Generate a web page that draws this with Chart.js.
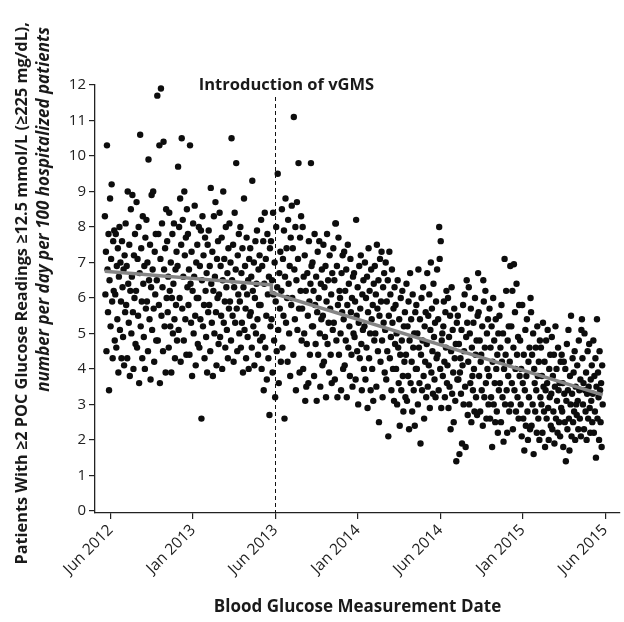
<!DOCTYPE html>
<html>
<head>
<meta charset="utf-8">
<script src="https://cdn.jsdelivr.net/npm/chart.js@4.4.1/dist/chart.umd.min.js"></script>
<style>
  html, body { margin: 0; padding: 0; background: #fff; }
  #wrap { width: 624px; height: 622px; }
</style>
</head>
<body>
<div id="wrap"><canvas id="glucoseChart" width="624" height="622"></canvas></div>
<script>
// x ticks, one every half year (equally spaced in the original figure)
const tickLabels = ['Jun 2012', 'Jan 2013', 'Jun 2013', 'Jan 2014', 'Jun 2014', 'Jan 2015', 'Jun 2015'];

// daily rates per 100 hospitalized patients, one array per half year
const ratesJun12 = [
  8.3,6.1,7.3,4.5,10.3,6.8,5.6,7.8,3.4,6.5,8.8,5.2,7.1,9.2,5.9,4.3,7.6,6.2,7.9,4.8,
  6.1,7.8,4.6,6.9,5.4,7.4,3.9,6.6,8.0,5.1,7.0,5.9,4.3,7.6,6.3,4.9,6.8,4.1,7.2,5.6,
  8.1,5.8,6.9,4.3,9.0,6.4,5.3,7.5,3.8,6.2,8.5,5.0,6.6,8.9,5.6,4.0,7.2,6.0,7.8,4.7,
  6.2,8.7,4.6,7.1,5.5,8.0,3.6,6.7,10.6,5.2,7.4,5.9,4.3,8.3,6.4,4.9,6.9,4.0,7.7,5.7,
  8.2,5.9,7.0,4.5,9.9,6.5,5.4,7.5,3.7,6.3,8.9,5.1,6.8,9.0,5.7,4.2,7.3,6.1,7.8,4.8,
  6.5,11.7,4.8,7.8,5.8,10.3,3.6,7.1,11.9,5.5,8.1,6.3,4.5,10.4,6.8,5.2,7.4,3.9,8.5,6.0,
  7.6,5.6,6.6,4.6,8.4,6.2,5.2,7.0,3.9,6.0,7.8,5.0,6.4,8.1,5.4,4.3,6.8,5.8,7.3,4.8,
  6.9,9.7,5.1,8.0,6.0,8.8,4.2,7.5,10.5,5.7,8.2,6.6,4.8,9.0,7.2,5.4,7.7,4.4,8.5,6.3
];
const ratesJan13 = [
  7.8,5.8,6.8,4.4,10.3,6.4,5.3,7.3,3.8,6.2,8.1,5.0,6.6,8.6,5.5,4.1,7.0,6.0,7.5,4.7,
  6.0,8.0,4.6,6.9,5.4,7.9,2.6,6.5,8.3,5.2,7.2,5.8,4.3,7.7,6.2,4.9,6.7,3.9,7.5,5.6,
  7.9,5.8,6.9,4.5,9.1,6.4,5.3,7.3,3.8,6.2,8.3,5.0,6.6,8.7,5.6,4.1,7.1,6.0,7.6,4.7,
  6.1,8.4,4.9,6.9,5.5,7.7,4.0,6.5,9.0,5.3,7.1,5.9,4.6,8.0,6.3,5.1,6.7,4.3,7.4,5.7,
  8.1,5.9,7.0,4.8,10.5,6.5,5.5,7.5,4.2,6.3,8.4,5.3,6.8,9.8,5.7,4.5,7.2,6.1,7.8,5.0,
  5.9,8.0,4.6,6.7,5.3,7.4,3.9,6.3,8.8,5.1,6.9,5.7,4.3,7.7,6.1,4.9,6.5,4.0,7.1,5.5,
  7.4,5.6,6.6,4.6,9.3,6.2,5.2,7.0,4.1,6.0,7.6,5.0,6.4,7.9,5.4,4.4,6.8,5.8,7.2,4.8,
  5.8,8.2,4.0,6.9,4.9,7.6,3.4,6.4,8.4,4.6,7.1,5.5,3.7,7.8,6.1,4.3,6.6,2.7,7.4,5.2
];
const ratesJun13 = [
  7.6,5.4,6.5,3.9,8.4,6.1,4.8,7.0,3.2,5.9,8.0,4.5,6.3,9.5,5.1,3.6,6.7,5.7,7.3,4.2,
  6.2,8.5,4.6,7.1,5.5,7.9,2.6,6.6,8.8,5.3,7.4,6.0,4.2,8.2,6.4,5.0,6.9,3.8,7.7,5.8,
  8.6,6.0,7.4,4.4,11.1,6.8,5.4,8.0,3.4,6.5,8.7,5.1,7.1,9.8,5.7,3.9,7.7,6.2,8.3,4.8,
  5.7,8.0,4.0,6.6,5.0,7.2,3.1,6.2,3.5,4.7,6.7,5.5,3.6,7.6,5.9,4.4,6.4,9.8,6.9,5.2,
  7.0,5.2,6.2,3.8,7.8,5.8,4.7,6.6,3.1,5.6,7.3,4.4,6.0,7.6,5.0,3.5,6.4,5.4,6.8,4.1,
  5.5,7.5,4.2,6.3,4.9,6.9,3.2,5.9,7.8,4.7,6.5,5.3,3.9,7.2,5.7,4.4,6.1,3.6,6.7,5.1,
  7.4,5.3,6.5,3.7,8.1,8.1,4.8,6.9,3.2,5.8,7.7,4.4,6.2,6.0,5.0,3.4,6.7,5.6,7.2,4.0,
  5.4,7.3,4.1,6.2,4.8,6.8,3.2,5.8,7.5,4.6,6.4,5.2,3.8,7.1,5.6,4.4,6.0,3.5,6.6,5.0
];
const ratesJan14 = [
  6.7,4.9,5.9,3.7,8.2,5.5,4.5,6.3,3.0,5.3,6.9,4.3,5.7,7.2,4.7,3.4,6.1,5.1,6.5,4.0,
  5.2,7.0,3.7,6.0,4.6,6.6,2.9,5.6,7.4,4.3,6.2,5.0,3.4,6.8,5.4,4.0,5.8,3.1,6.4,4.8,
  6.9,5.0,6.1,3.5,7.5,5.7,4.5,6.5,2.5,5.5,7.1,4.2,5.9,7.3,4.8,3.2,6.3,5.3,6.7,3.9,
  5.1,7.0,3.7,5.9,4.5,6.5,2.1,5.5,7.3,4.3,6.1,4.9,3.4,6.8,5.3,4.0,5.7,3.1,6.3,4.7,
  5.8,4.0,5.0,3.0,6.5,4.6,3.6,5.4,2.4,4.4,6.0,3.4,4.8,6.2,3.8,2.8,5.2,4.2,5.6,3.2,
  4.4,6.4,3.1,5.2,3.8,5.9,2.3,4.8,6.7,3.6,5.4,4.2,2.8,6.1,4.6,3.4,5.0,2.4,5.6,4.0,
  5.8,4.0,5.0,3.0,6.8,4.6,3.6,5.4,1.9,4.4,6.0,3.4,4.8,6.3,3.8,2.6,5.2,4.2,5.6,3.2,
  4.7,6.7,3.5,5.5,4.1,6.1,2.9,5.1,7.0,3.9,5.7,4.5,3.3,6.4,4.9,3.7,5.3,3.2,5.9,4.3
];
const ratesJun14 = [
  6.8,4.4,5.4,3.4,8.0,7.1,4.0,7.6,2.9,4.8,5.0,3.8,5.2,5.9,4.2,3.2,5.6,4.6,6.2,3.6,
  4.1,6.0,2.9,4.9,3.5,5.5,2.3,4.5,6.3,3.3,5.1,3.9,2.5,5.7,4.3,3.1,4.7,1.4,5.3,3.7,
  5.5,3.7,4.7,1.6,3.9,4.3,3.3,5.1,1.9,4.1,5.8,3.0,4.5,6.1,3.5,1.8,4.9,6.5,5.3,2.7,
  4.2,6.3,3.0,5.0,3.6,5.7,2.5,4.6,3.8,3.4,5.3,4.0,2.8,6.0,4.4,3.2,4.8,2.7,5.5,6.7,
  5.6,3.8,4.8,2.8,4.2,4.4,3.4,5.2,2.4,6.5,5.9,3.2,4.6,6.2,3.6,2.6,5.0,4.0,5.4,3.0,
  3.8,5.7,2.6,4.6,3.2,5.2,1.8,4.2,6.0,3.0,4.8,3.6,2.5,5.4,4.0,2.8,4.4,2.2,5.0,3.4,
  5.5,3.6,4.6,2.5,5.8,4.2,3.2,5.0,1.95,4.0,7.1,3.0,4.4,6.2,3.4,2.2,4.8,3.8,5.2,2.8,
  4.2,6.9,3.0,5.2,3.6,6.2,2.3,4.6,6.95,3.4,5.6,4.0,2.8,6.4,4.4,3.2,4.9,2.6,5.8,3.8
];
const ratesJan15 = [
  4.8,3.0,4.0,2.1,5.8,3.6,2.6,4.4,1.7,3.4,5.1,2.4,3.8,5.4,2.8,2.0,4.2,3.2,4.6,2.3,
  6.0,5.6,2.4,4.4,3.0,5.0,1.6,4.0,3.6,2.8,4.6,3.4,2.2,5.2,3.8,2.6,4.2,2.0,4.8,3.2,
  4.6,3.0,3.8,2.2,5.3,3.5,2.8,4.2,1.8,3.4,4.8,2.6,3.6,5.1,2.9,2.0,4.0,3.2,4.4,2.4,
  3.3,4.9,2.3,3.8,2.8,4.4,1.9,3.5,5.2,2.6,4.0,3.1,2.2,4.6,3.4,2.5,3.6,2.1,4.2,2.9,
  4.4,2.8,3.6,1.8,4.2,3.3,2.5,4.0,1.4,3.1,4.7,2.3,3.4,5.1,2.6,1.7,3.8,3.0,5.5,2.1,
  3.3,4.3,2.5,3.9,2.8,4.5,2.0,3.5,3.0,2.7,4.1,3.1,2.3,4.8,3.4,2.6,3.7,2.1,5.1,5.4,
  4.3,3.0,3.6,2.3,5.0,3.4,2.8,3.9,2.0,3.3,4.5,2.6,3.5,4.7,2.9,2.2,3.7,3.1,4.1,2.5,
  3.3,4.8,2.2,3.8,2.8,4.3,1.5,3.5,5.4,2.6,3.9,3.2,2.0,4.5,3.4,2.5,3.6,1.8,4.1,3.0
];

// first and last measurement day, in half-year tick units
const firstDay = -0.07;
const lastDay = 5.97;

// segmented regression (before / after vGMS)
const trendX = [-0.07, 1.95, 1.95, 5.97];
const trendY = [6.75, 6.37, 6.15, 3.27];

const introAt = 2; // Jun 2013
const introLabel = 'Introduction of vGMS';
const yTitleMain = 'Patients With \u22652 POC Glucose Readings \u226512.5 mmol/L (\u2265225 mg/dL),';
const yTitleSub = 'number per day per 100 hospitalized patients';

const FONT = "'Open Sans', 'DejaVu Sans', sans-serif";

const allRates = [].concat(ratesJun12, ratesJan13, ratesJun13, ratesJan14, ratesJun14, ratesJan15);
const dayStep = (lastDay - firstDay) / (allRates.length - 1);
const points = allRates.map((v, i) => ({ x: firstDay + i * dayStep, y: v }));
const trend = trendX.map((x, i) => ({ x: x, y: trendY[i] }));

const introPlugin = {
    id: 'intro',
    beforeDatasetsDraw(chart) {
        const { ctx, chartArea, scales } = chart;
        const x = Math.round(scales.x.getPixelForValue(introAt)) + 0.5;
        ctx.save();
        ctx.strokeStyle = '#111';
        ctx.lineWidth = 1;
        ctx.setLineDash([4, 3]);
        ctx.beginPath();
        ctx.moveTo(x, chartArea.top + 12);
        ctx.lineTo(x, chartArea.bottom);
        ctx.stroke();
        ctx.restore();
    },
    afterDraw(chart) {
        const { ctx, chartArea, scales } = chart;
        const x = scales.x.getPixelForValue(introAt);
        ctx.save();
        ctx.fillStyle = '#1a1a1a';
        ctx.font = 'bold 16.5px ' + FONT;
        ctx.textAlign = 'center';
        ctx.textBaseline = 'middle';
        ctx.fillText(introLabel, x + 11, chartArea.top);

        // two-line y title, top aligned
        ctx.translate(22, 22);
        ctx.rotate(-Math.PI / 2);
        ctx.textAlign = 'right';
        ctx.font = 'bold 16.3px ' + FONT;
        ctx.fillText(yTitleMain, 0, 0);
        ctx.font = 'italic bold 17px ' + FONT;
        ctx.fillText(yTitleSub, -5, 22);
        ctx.restore();
    }
};

const axisLine = { color: '#222', width: 1.3 };
const tickMarks = { drawOnChartArea: false, drawTicks: true, tickLength: 6, color: '#222', lineWidth: 1.2 };

new Chart(document.getElementById('glucoseChart'), {
    type: 'scatter',
    data: {
        datasets: [
            {
                type: 'line',
                data: trend,
                borderColor: '#858585',
                borderWidth: 3.5,
                pointRadius: 0,
                tension: 0,
                order: 0
            },
            {
                data: points,
                backgroundColor: '#0d0d0d',
                borderWidth: 0,
                pointRadius: 3.2,
                order: 1
            }
        ]
    },
    options: {
        responsive: false,
        animation: false,
        layout: { padding: { top: 85, right: 2, left: 0, bottom: 0 } },
        plugins: {
            legend: { display: false },
            tooltip: { enabled: false }
        },
        scales: {
            x: {
                type: 'linear',
                min: -0.19,
                max: 6.18,
                afterFit(scale) { scale.height = 109; },
                border: axisLine,
                grid: tickMarks,
                ticks: {
                    stepSize: 1,
                    includeBounds: false,
                    autoSkip: false,
                    maxRotation: 45,
                    minRotation: 45,
                    padding: 2,
                    color: '#222',
                    font: { family: FONT, size: 15.5 },
                    callback: v => tickLabels[v] ?? ''
                },
                title: {
                    display: true,
                    text: 'Blood Glucose Measurement Date',
                    color: '#1a1a1a',
                    font: { family: FONT, size: 17, weight: 'bold' },
                    padding: { top: 4, bottom: 5 }
                }
            },
            y: {
                min: -0.06,
                max: 12,
                afterFit(scale) { scale.width = 95; },
                border: axisLine,
                grid: tickMarks,
                ticks: {
                    stepSize: 1,
                    includeBounds: false,
                    padding: 3,
                    color: '#222',
                    font: { family: FONT, size: 15 }
                }
            }
        }
    },
    plugins: [introPlugin]
});
</script>
</body>
</html>
